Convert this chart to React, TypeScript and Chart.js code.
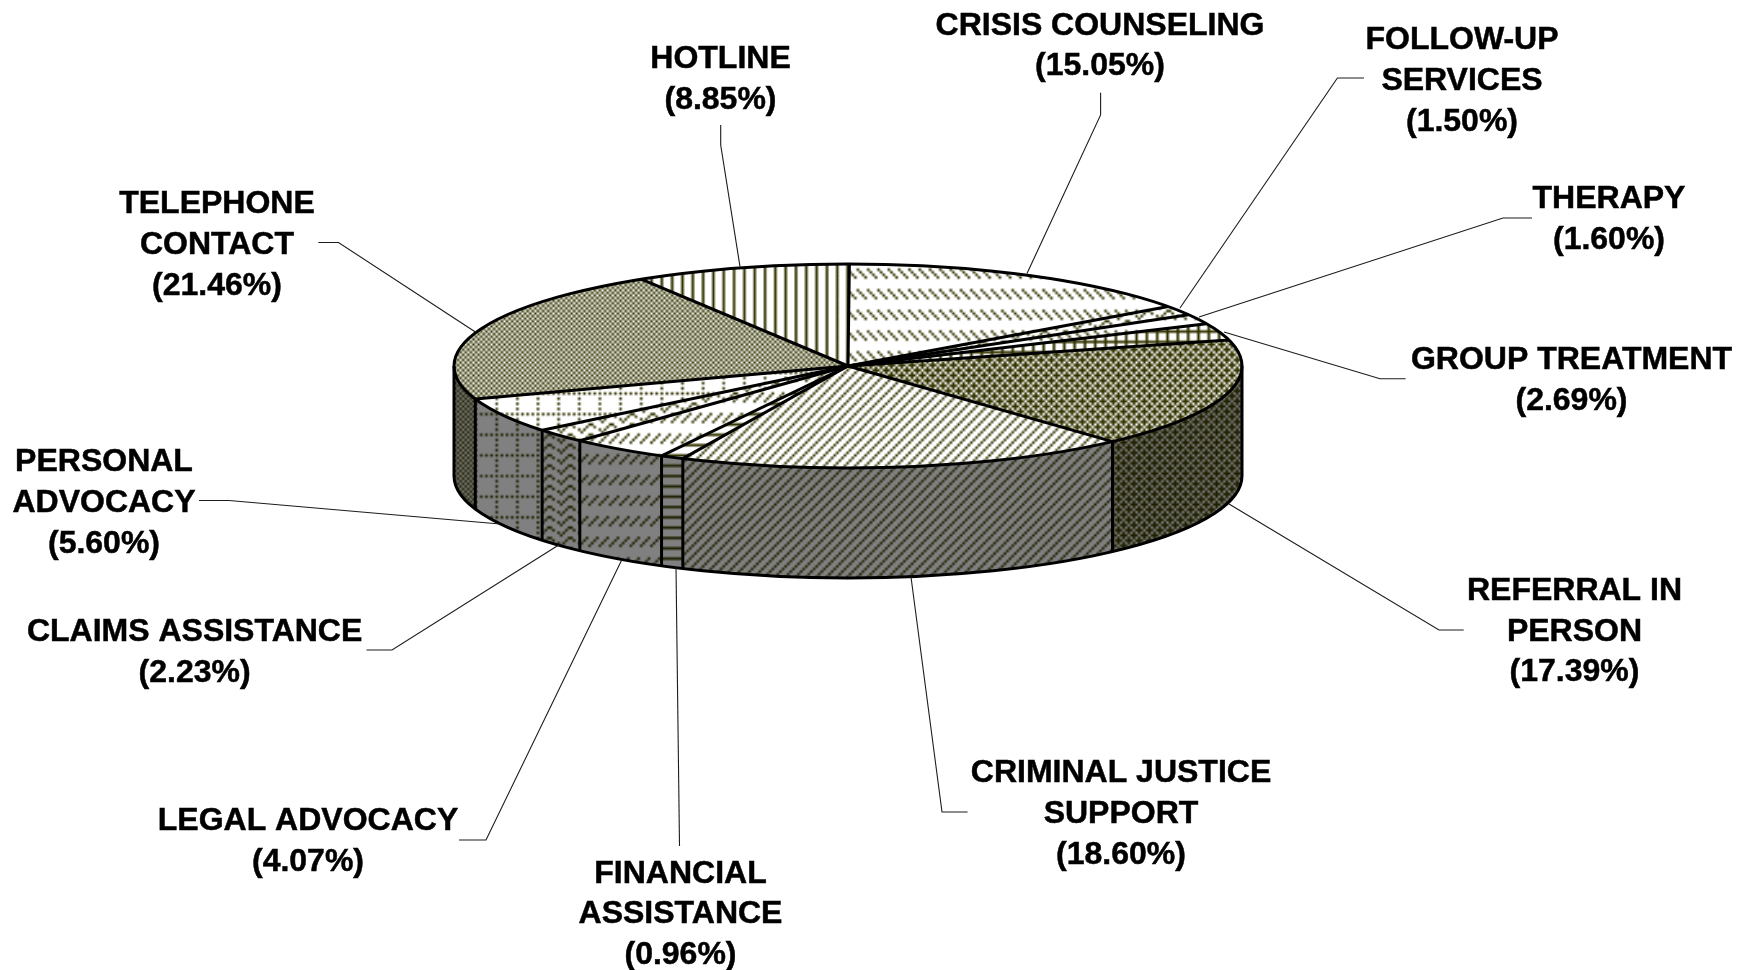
import React, { useEffect, useRef } from "react";
import { Chart, registerables } from "chart.js";

Chart.register(...registerables);

const sliceNames = ["CRISIS COUNSELING", "FOLLOW-UP SERVICES", "THERAPY", "GROUP TREATMENT", "REFERRAL IN PERSON", "CRIMINAL JUSTICE SUPPORT", "FINANCIAL ASSISTANCE", "LEGAL ADVOCACY", "CLAIMS ASSISTANCE", "PERSONAL ADVOCACY", "TELEPHONE CONTACT", "HOTLINE"];
const sliceValues = [15.05, 1.5, 1.6, 2.69, 17.39, 18.6, 0.96, 4.07, 2.23, 5.6, 21.46, 8.85];

const labelLines = [
  ["CRISIS COUNSELING"],
  ["FOLLOW-UP", "SERVICES"],
  ["THERAPY"],
  ["GROUP TREATMENT"],
  ["REFERRAL IN", "PERSON"],
  ["CRIMINAL JUSTICE", "SUPPORT"],
  ["FINANCIAL", "ASSISTANCE"],
  ["LEGAL ADVOCACY"],
  ["CLAIMS ASSISTANCE"],
  ["PERSONAL", "ADVOCACY"],
  ["TELEPHONE", "CONTACT"],
  ["HOTLINE"],
];

// x centre and first-line middle y of each label block
const labelAnchors = [
  [1100, 25.8], [1462, 40.3], [1609, 199], [1571.5, 360], [1574.5, 591], [1121, 773.3],
  [680.5, 873.8], [308, 821.3], [194.6, 632.3], [104, 462.3], [217, 204.3], [720.5, 59.3],
];
const leaderPaths = [
  [[1100.6, 92.7], [1100.6, 115], [1027, 273.5]],
  [[1364, 78], [1337.4, 78], [1180, 308]],
  [[1532, 218], [1503, 218], [1199, 317]],
  [[1405.6, 378.8], [1380, 378.8], [1224, 332]],
  [[1463.7, 630], [1439, 630], [1229, 504]],
  [[967.6, 812], [942, 812], [911, 577]],
  [[679.5, 846], [676, 567]],
  [[459, 840], [486, 840], [621.7, 560]],
  [[366.5, 650], [392, 650], [558.7, 545]],
  [[199, 500.5], [229, 500.5], [500, 524]],
  [[318.4, 242.5], [338.5, 242.5], [475, 331.7]],
  [[720.7, 125], [720.7, 145], [740, 266.7]],
];

const dashDown = ["10001000", "01000100", "00100010", "00010001", "00000000", "00000000", "00000000", "00000000"];
const dashUp = ["00010001", "00100010", "01000100", "10001000", "00000000", "00000000", "00000000", "00000000"];
const wave = ["00001100", "00010010", "10100000", "01000000", "00001100", "00010010", "10100000", "01000000"];
const smallGrid = ["11111111", "10001000", "10001000", "10001000", "11111111", "10001000", "10001000", "10001000"];
const trellis = ["01010101", "11101110", "01010101", "10111011", "01010101", "11101110", "01010101", "10111011"];
const upDiag = ["00010001", "00100010", "01000100", "10001000", "00010001", "00100010", "01000100", "10001000"];
const horiz = ["11111111", "00000000", "00000000", "00000000", "11111111", "00000000", "00000000", "00000000"];
const dottedGrid = ["10101010", "00000000", "10000000", "00000000", "10000000", "00000000", "10000000", "00000000"];
const checker = ["10101010", "01010101", "10101010", "01010101", "10101010", "01010101", "10101010", "01010101"];
const vert = ["10001000", "10001000", "10001000", "10001000", "10001000", "10001000", "10001000", "10001000"];
const slicePatterns = [dashDown, wave, dashDown, smallGrid, trellis, upDiag, horiz, dashUp, wave, dottedGrid, checker, vert];

const PATTERN_SCALE = 2.58;
const CENTER_X = 848;
const TOP_Y = 366;
const RADIUS_X = 394;
const RADIUS_Y = 102;
const DEPTH = 110;
const ROTATION = 0.2;
const TOP_FG = "#333300";
const TOP_BG = "#ffffff";
const WALL_FG = "#1f1f00";
const WALL_BG = "#808080";
const FONT = 'bold 32px "Liberation Sans", Arial, sans-serif';
const LINE_GAP = 40.8;

function makePattern(rows: string[], fg: string, bg: string) {
  const tile = document.createElement("canvas");
  tile.width = 8;
  tile.height = 8;
  const t = tile.getContext("2d")!;
  t.fillStyle = bg;
  t.fillRect(0, 0, 8, 8);
  t.fillStyle = fg;
  rows.forEach((row, y) => {
    for (let x = 0; x < 8; x++) if (row[x] === "1") t.fillRect(x, y, 1, 1);
  });
  return t.createPattern(tile, "repeat")!;
}

export default function App() {
  const ref = useRef<HTMLCanvasElement>(null);
  useEffect(() => {
    const canvas = ref.current!;
    const topPatterns = slicePatterns.map((p) => makePattern(p, TOP_FG, TOP_BG));
    const wallPatterns = slicePatterns.map((p) => makePattern(p, WALL_FG, WALL_BG));
    wallPatterns.forEach((p) => p.setTransform(new DOMMatrix().scale(PATTERN_SCALE)));

    const squash = RADIUS_Y / RADIUS_X;
    const front = (a: number) => Math.max(0, Math.min(Math.PI, a));

    const pie3d = {
      id: "pie3d",
      beforeDatasetsDraw(chart: any) {
        const ctx = chart.ctx;
        const arcs = chart.getDatasetMeta(0).data;
        const cy = arcs[0].y;
        // side wall, taken from the angles the library computed
        arcs.forEach((arc: any, i: number) => {
          const a0 = front(arc.startAngle);
          const a1 = front(arc.endAngle);
          if (a1 <= a0) return;
          ctx.beginPath();
          ctx.ellipse(arc.x, TOP_Y, arc.outerRadius, arc.outerRadius * squash, 0, a0, a1);
          ctx.ellipse(arc.x, TOP_Y + DEPTH, arc.outerRadius, arc.outerRadius * squash, 0, a1, a0, true);
          ctx.closePath();
          ctx.fillStyle = wallPatterns[i];
          ctx.fill();
        });
        const m = new DOMMatrix().translate(0, TOP_Y).scale(1, squash).translate(0, -cy);
        const inv = m.inverse().scale(PATTERN_SCALE);
        topPatterns.forEach((p) => p.setTransform(inv));
        ctx.save();
        ctx.setTransform(ctx.getTransform().multiply(m));
      },
      afterDatasetsDraw(chart: any) {
        const ctx = chart.ctx;
        ctx.restore();
        const arcs = chart.getDatasetMeta(0).data;
        const x = arcs[0].x;
        const rx = arcs[0].outerRadius;
        const ry = rx * squash;
        ctx.save();
        ctx.strokeStyle = "#000";
        ctx.lineWidth = 3;
        ctx.lineJoin = "round";
        ctx.lineCap = "butt";
        // verticals at wall seams and silhouette edges
        const seams = [0, Math.PI];
        arcs.forEach((arc: any) => {
          if (arc.startAngle > 0 && arc.startAngle < Math.PI) seams.push(arc.startAngle);
        });
        seams.forEach((a) => {
          const px = x + rx * Math.cos(a);
          const py = TOP_Y + ry * Math.sin(a);
          ctx.beginPath();
          ctx.moveTo(px, py);
          ctx.lineTo(px, py + DEPTH);
          ctx.stroke();
        });
        ctx.beginPath();
        ctx.ellipse(x, TOP_Y + DEPTH, rx, ry, 0, 0, Math.PI);
        ctx.stroke();
        // radial separators
        arcs.forEach((arc: any) => {
          ctx.beginPath();
          ctx.moveTo(x, TOP_Y);
          ctx.lineTo(x + rx * Math.cos(arc.startAngle), TOP_Y + ry * Math.sin(arc.startAngle));
          ctx.stroke();
        });
        ctx.beginPath();
        ctx.ellipse(x, TOP_Y, rx, ry, 0, 0, Math.PI * 2);
        ctx.stroke();
        ctx.restore();
      },
      afterDraw(chart: any) {
        const ctx = chart.ctx;
        ctx.save();
        ctx.strokeStyle = "#1c1c1c";
        ctx.lineWidth = 1.1;
        leaderPaths.forEach((path) => {
          ctx.beginPath();
          path.forEach(([px, py], i) => (i ? ctx.lineTo(px, py) : ctx.moveTo(px, py)));
          ctx.stroke();
        });
        ctx.fillStyle = "#000";
        ctx.strokeStyle = "#000";
        ctx.lineWidth = 0.5;
        ctx.font = FONT;
        ctx.textAlign = "center";
        ctx.textBaseline = "middle";
        labelLines.forEach((lines, i) => {
          const [lx, ly] = labelAnchors[i];
          const all = [...lines, `(${sliceValues[i].toFixed(2)}%)`];
          all.forEach((text, j) => {
            ctx.fillText(text, lx, ly + j * LINE_GAP);
            ctx.strokeText(text, lx, ly + j * LINE_GAP);
          });
        });
        ctx.restore();
      },
    };

    const side = 1752;
    const chart = new Chart(canvas, {
      type: "pie",
      data: {
        labels: sliceNames,
        datasets: [{ data: sliceValues, backgroundColor: topPatterns as any, borderWidth: 0, clip: false as any }],
      },
      options: {
        animation: false,
        responsive: false,
        devicePixelRatio: 1,
        rotation: ROTATION,
        events: [],
        layout: {
          padding: {
            left: CENTER_X - RADIUS_X,
            right: side - CENTER_X - RADIUS_X,
            top: (970 - 2 * RADIUS_X) / 2,
            bottom: (970 - 2 * RADIUS_X) / 2,
          },
        },
        plugins: { legend: { display: false }, tooltip: { enabled: false }, title: { display: false } },
      },
      plugins: [pie3d as any],
    });
    return () => chart.destroy();
  }, []);
  return (
    <div style={{ position: "absolute", left: 0, top: 0, width: 1752, height: 970, background: "#fff" }}>
      <canvas ref={ref} width={1752} height={970} style={{ display: "block" }} />
    </div>
  );
}
